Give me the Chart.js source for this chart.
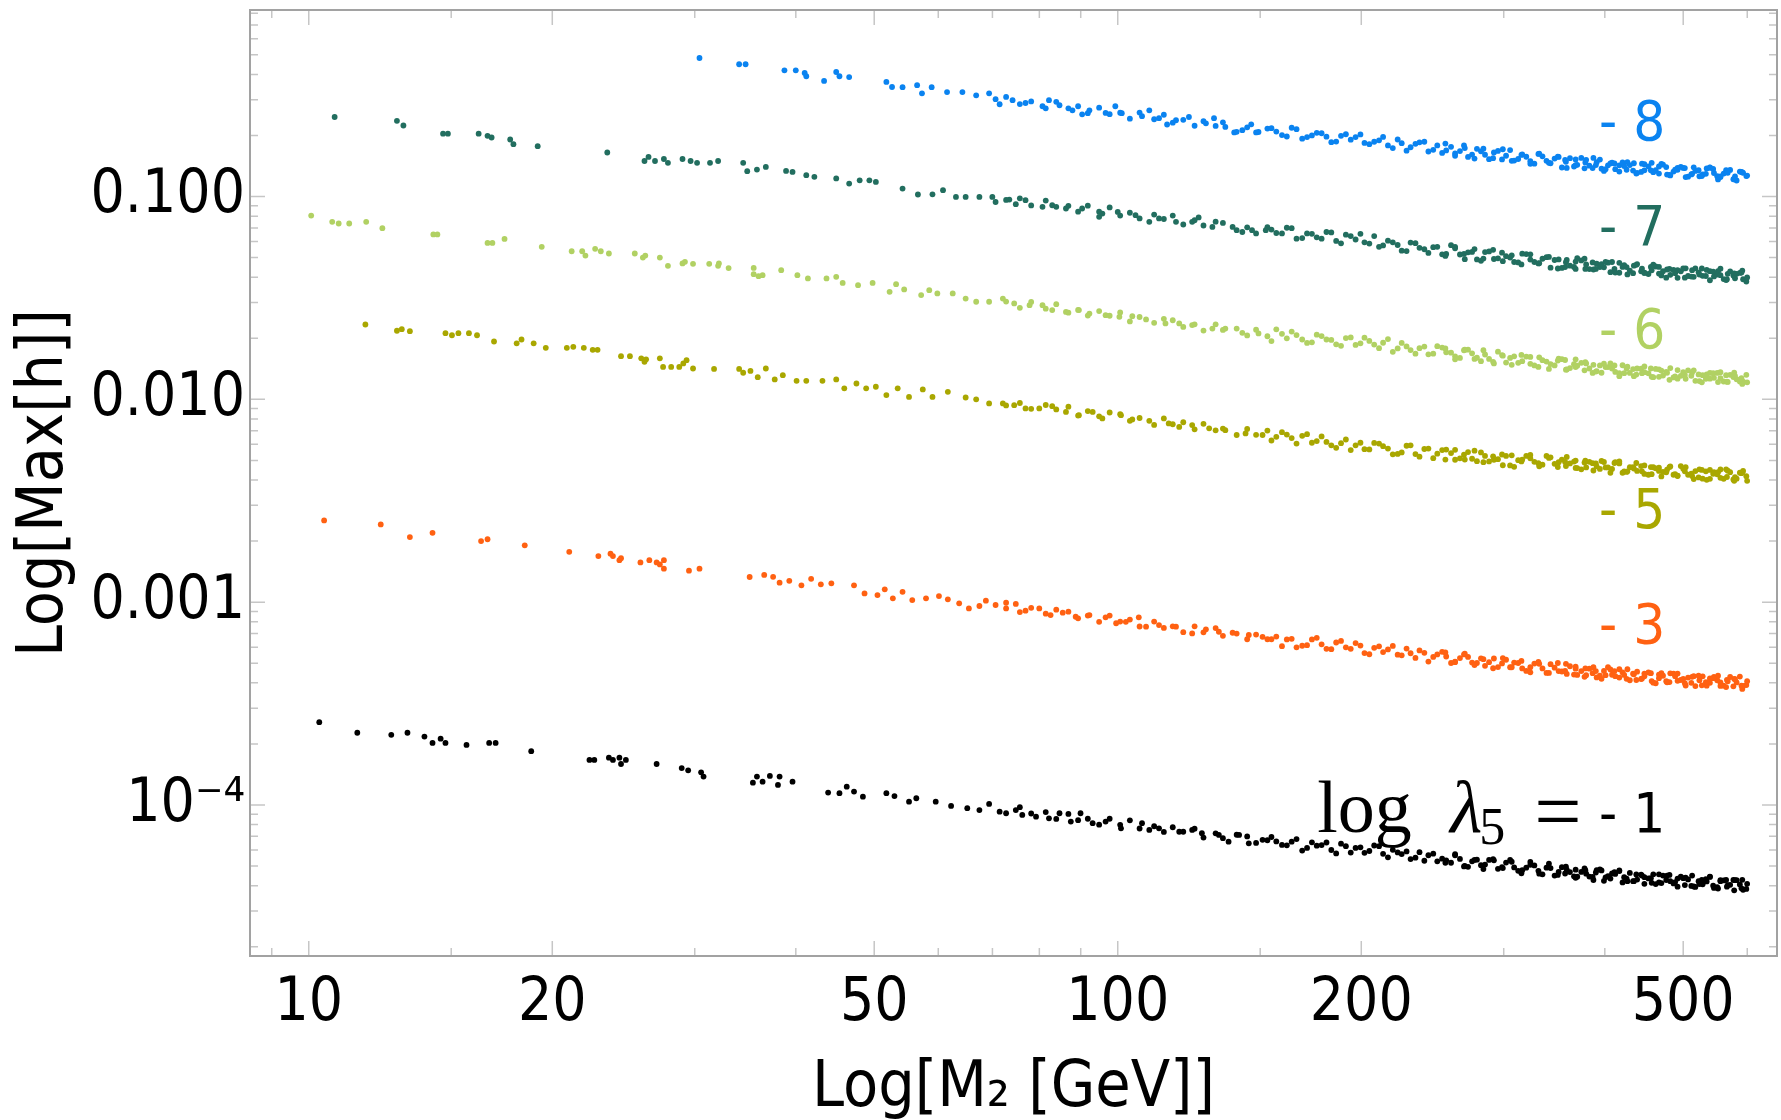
<!DOCTYPE html>
<html>
<head>
<meta charset="utf-8">
<script src="https://cdn.jsdelivr.net/npm/chart.js@4.4.0/dist/chart.umd.min.js"></script>
<style>
  html, body { margin: 0; padding: 0; background: #ffffff; }
  #grafica { display: block; }
</style>
</head>
<body>
<canvas id="grafica" width="1781" height="1120"></canvas>
<script>
// Valores: [log10(M2/GeV), log10(Max[h])], una lista por cada log λ5
var bajo8 = [[1.483,-0.317],[1.532,-0.348],[1.540,-0.348],[1.588,-0.378],[1.602,-0.378],[1.613,-0.391],[1.615,-0.407],[1.637,-0.430],[1.652,-0.386],[1.656,-0.407],[1.668,-0.411],[1.714,-0.435],[1.721,-0.460],[1.734,-0.461],[1.752,-0.451],[1.758,-0.491],[1.770,-0.461],[1.789,-0.485],[1.808,-0.485],[1.825,-0.501],[1.841,-0.491],[1.849,-0.520],[1.854,-0.545],[1.870,-0.525],[1.886,-0.539],[1.907,-0.555],[1.915,-0.525],[1.928,-0.550],[1.944,-0.575],[1.956,-0.595],[1.965,-0.575],[1.985,-0.588],[1.997,-0.555],[2.005,-0.589],[2.030,-0.604],[2.039,-0.575],[2.051,-0.614],[2.061,-0.645],[2.072,-0.624],[2.088,-0.608],[2.109,-0.639],[2.119,-0.614],[2.133,-0.657],[2.144,-0.684],[2.154,-0.673],[2.165,-0.644],[2.174,-0.682]];
var bajo7 = [[1.032,-0.608],[1.109,-0.627],[1.117,-0.650],[1.166,-0.690],[1.172,-0.690],[1.210,-0.690],[1.221,-0.701],[1.226,-0.709],[1.249,-0.719],[1.253,-0.742],[1.283,-0.752],[1.369,-0.783],[1.415,-0.825],[1.420,-0.805],[1.428,-0.825],[1.439,-0.815],[1.444,-0.834],[1.462,-0.815],[1.472,-0.825],[1.480,-0.834],[1.496,-0.834],[1.506,-0.825],[1.537,-0.834],[1.542,-0.875],[1.554,-0.867],[1.565,-0.854],[1.590,-0.874],[1.598,-0.879],[1.615,-0.895],[1.625,-0.903],[1.652,-0.911],[1.668,-0.936],[1.681,-0.920],[1.693,-0.920],[1.701,-0.928],[1.734,-0.961],[1.753,-0.990],[1.771,-0.989],[1.784,-0.969],[1.800,-1.002],[1.812,-1.002],[1.829,-1.002],[1.845,-1.002],[1.849,-1.027],[1.866,-1.015],[1.874,-1.038],[1.886,-1.018],[1.907,-1.051],[1.919,-1.043],[1.936,-1.059],[1.956,-1.059],[1.977,-1.100],[1.981,-1.084],[2.000,-1.076],[2.022,-1.092],[2.039,-1.125],[2.051,-1.108],[2.072,-1.125],[2.092,-1.125],[2.100,-1.103],[2.117,-1.150],[2.142,-1.150],[2.154,-1.175],[2.166,-1.166],[2.183,-1.166]];
var bajo6 = [[1.003,-1.094],[1.029,-1.125],[1.037,-1.133],[1.050,-1.133],[1.071,-1.125],[1.091,-1.156],[1.154,-1.187],[1.159,-1.187],[1.221,-1.229],[1.227,-1.229],[1.242,-1.209],[1.288,-1.248],[1.325,-1.270],[1.338,-1.270],[1.342,-1.291],[1.354,-1.258],[1.361,-1.270],[1.371,-1.281],[1.403,-1.281],[1.413,-1.301],[1.416,-1.291],[1.434,-1.301],[1.444,-1.342],[1.462,-1.330],[1.465,-1.322],[1.475,-1.332],[1.495,-1.332],[1.506,-1.342],[1.507,-1.330],[1.519,-1.353],[1.550,-1.352],[1.550,-1.383],[1.556,-1.393],[1.561,-1.388],[1.584,-1.363],[1.604,-1.388],[1.617,-1.404],[1.640,-1.404],[1.652,-1.396],[1.660,-1.426],[1.679,-1.437],[1.697,-1.426],[1.718,-1.470],[1.726,-1.432],[1.736,-1.458],[1.757,-1.486],[1.767,-1.462],[1.777,-1.478],[1.796,-1.478],[1.812,-1.503],[1.825,-1.519],[1.841,-1.519],[1.858,-1.503],[1.872,-1.527],[1.891,-1.536],[1.907,-1.536],[1.919,-1.560],[1.936,-1.569],[1.952,-1.560],[1.965,-1.577],[1.985,-1.585],[2.002,-1.593],[2.018,-1.590],[2.035,-1.606],[2.059,-1.626],[2.076,-1.626],[2.092,-1.634],[2.117,-1.651],[2.133,-1.651],[2.154,-1.672],[2.174,-1.675]];
var bajo5 = [[1.070,-1.631],[1.109,-1.662],[1.115,-1.654],[1.125,-1.664],[1.169,-1.674],[1.177,-1.684],[1.185,-1.674],[1.198,-1.674],[1.208,-1.684],[1.229,-1.715],[1.257,-1.724],[1.263,-1.705],[1.278,-1.724],[1.293,-1.746],[1.319,-1.746],[1.327,-1.741],[1.340,-1.746],[1.351,-1.756],[1.357,-1.756],[1.386,-1.787],[1.397,-1.787],[1.411,-1.798],[1.415,-1.815],[1.417,-1.803],[1.434,-1.798],[1.438,-1.840],[1.448,-1.840],[1.458,-1.840],[1.463,-1.823],[1.467,-1.807],[1.475,-1.848],[1.501,-1.850],[1.532,-1.850],[1.537,-1.869],[1.546,-1.860],[1.555,-1.891],[1.565,-1.848],[1.576,-1.902],[1.586,-1.881],[1.603,-1.909],[1.615,-1.909],[1.635,-1.909],[1.652,-1.902],[1.662,-1.946],[1.677,-1.922],[1.689,-1.946],[1.701,-1.938],[1.714,-1.979],[1.728,-1.946],[1.742,-1.988],[1.759,-1.951],[1.771,-1.988],[1.790,-1.963],[1.812,-1.991],[1.825,-2.000],[1.841,-2.020],[1.858,-2.020],[1.872,-2.029],[1.886,-2.045],[1.903,-2.045],[1.919,-2.034],[1.936,-2.062],[1.952,-2.078],[1.969,-2.062],[1.981,-2.094],[2.004,-2.078],[2.018,-2.099],[2.039,-2.106],[2.063,-2.119],[2.076,-2.136],[2.092,-2.127],[2.113,-2.143],[2.133,-2.152],[2.158,-2.168],[2.179,-2.176]];
var bajo3 = [[1.019,-2.597],[1.089,-2.617],[1.125,-2.679],[1.153,-2.658],[1.213,-2.699],[1.221,-2.690],[1.267,-2.720],[1.322,-2.752],[1.358,-2.773],[1.373,-2.761],[1.376,-2.773],[1.384,-2.793],[1.386,-2.783],[1.410,-2.804],[1.421,-2.793],[1.430,-2.804],[1.434,-2.814],[1.439,-2.793],[1.439,-2.835],[1.470,-2.845],[1.483,-2.835],[1.545,-2.876],[1.563,-2.866],[1.574,-2.875],[1.582,-2.904],[1.594,-2.895],[1.609,-2.917],[1.621,-2.885],[1.633,-2.912],[1.646,-2.907],[1.674,-2.917],[1.687,-2.957],[1.703,-2.965],[1.712,-2.937],[1.722,-2.981],[1.734,-2.949],[1.746,-2.990],[1.763,-2.981],[1.779,-2.970],[1.790,-2.986],[1.804,-3.006],[1.816,-3.031],[1.829,-3.019],[1.837,-2.993],[1.849,-3.014],[1.862,-3.031],[1.874,-3.009],[1.886,-3.042],[1.903,-3.031],[1.917,-3.064],[1.932,-3.052],[1.948,-3.072],[1.965,-3.064],[1.985,-3.075],[1.998,-3.104],[2.010,-3.097],[2.026,-3.075],[2.035,-3.121],[2.051,-3.113],[2.072,-3.121],[2.092,-3.154],[2.109,-3.134],[2.125,-3.146],[2.142,-3.151],[2.162,-3.162],[2.179,-3.171]];
var bajo1 = [[1.013,-3.592],[1.060,-3.644],[1.102,-3.654],[1.122,-3.644],[1.143,-3.663],[1.153,-3.694],[1.163,-3.673],[1.169,-3.694],[1.195,-3.704],[1.223,-3.694],[1.231,-3.694],[1.275,-3.735],[1.347,-3.778],[1.353,-3.778],[1.371,-3.767],[1.376,-3.778],[1.384,-3.767],[1.386,-3.798],[1.392,-3.778],[1.430,-3.798],[1.461,-3.818],[1.469,-3.829],[1.485,-3.839],[1.488,-3.860],[1.549,-3.890],[1.554,-3.860],[1.561,-3.885],[1.570,-3.857],[1.580,-3.901],[1.582,-3.860],[1.598,-3.885],[1.642,-3.939],[1.656,-3.942],[1.665,-3.910],[1.674,-3.934],[1.685,-3.959],[1.714,-3.942],[1.724,-3.956],[1.742,-3.984],[1.751,-3.967],[1.775,-3.984],[1.794,-4.005],[1.814,-4.016],[1.829,-4.025],[1.841,-3.995],[1.854,-4.033],[1.874,-4.025],[1.882,-4.049],[1.899,-4.058],[1.915,-4.066],[1.928,-4.041],[1.942,-4.082],[1.954,-4.041],[1.969,-4.090],[1.985,-4.082],[2.004,-4.115],[2.030,-4.090],[2.039,-4.123],[2.051,-4.115],[2.076,-4.132],[2.092,-4.123],[2.104,-4.139],[2.125,-4.148],[2.137,-4.181],[2.150,-4.148],[2.162,-4.189],[2.179,-4.172]];

// Zona intermedia (70-150 GeV): log10(M2) común y log10(Max[h]) de cada serie
var lmMedio = [1.862,1.879,1.893,1.911,1.924,1.939,1.951,1.963,1.977,1.990,2.003,2.015,2.027,2.045,2.057,2.068,2.081,2.095,2.106,2.121,2.130,2.147,2.160,2.171,2.185];
var medio8 = [-0.509,-0.544,-0.531,-0.565,-0.533,-0.565,-0.555,-0.589,-0.562,-0.594,-0.587,-0.616,-0.586,-0.619,-0.597,-0.636,-0.622,-0.651,-0.629,-0.652,-0.634,-0.681,-0.659,-0.684,-0.665];
var medio7 = [-1.017,-1.009,-1.044,-1.020,-1.051,-1.046,-1.075,-1.045,-1.075,-1.054,-1.094,-1.080,-1.108,-1.089,-1.111,-1.094,-1.138,-1.117,-1.143,-1.124,-1.130,-1.166,-1.152,-1.182,-1.151];
var medio6 = [-1.518,-1.549,-1.520,-1.553,-1.531,-1.573,-1.559,-1.587,-1.565,-1.588,-1.572,-1.616,-1.594,-1.623,-1.603,-1.610,-1.643,-1.630,-1.661,-1.630,-1.658,-1.651,-1.685,-1.657,-1.689];
var medio5 = [-2.030,-2.018,-2.047,-2.028,-2.050,-2.036,-2.080,-2.058,-2.084,-2.065,-2.073,-2.106,-2.092,-2.126,-2.094,-2.123,-2.113,-2.148,-2.121,-2.153,-2.144,-2.176,-2.146,-2.175,-2.154];
var medio3 = [-3.003,-3.049,-3.028,-3.057,-3.037,-3.047,-3.080,-3.066,-3.097,-3.066,-3.096,-3.086,-3.120,-3.096,-3.127,-3.119,-3.148,-3.119,-3.149,-3.128,-3.166,-3.155,-3.183,-3.160,-3.183];
var medio1 = [-4.041,-4.011,-4.042,-4.035,-4.069,-4.044,-4.075,-4.068,-4.097,-4.068,-4.098,-4.076,-4.116,-4.105,-4.133,-4.110,-4.132,-4.117,-4.161,-4.140,-4.164,-4.147,-4.155,-4.187,-4.174];

// Zona densa (M2 > 150 GeV): filas de log10(M2) comunes y log10(Max[h]) de cada banda
var lmBanda = [2.190,2.203,2.215,2.228,2.240,2.252,2.264,2.276,2.288,2.300,2.311,2.323,2.334,2.346,2.357,2.368,2.379,2.390,2.401,2.412,2.423,2.433,2.444,2.454,2.465,2.475,2.485,2.495,2.505,2.515,2.525,2.535,2.545,2.554,2.564,2.573,2.583,2.592,2.601,2.611,2.620,2.629,2.638,2.647,2.656,2.665,2.674,2.683,2.692,2.701,2.710,2.719,2.728,2.737,2.745,2.753,2.761,2.769,2.777];
var lmBanda2 = [2.196,2.209,2.221,2.234,2.246,2.258,2.270,2.282,2.294,2.305,2.317,2.328,2.340,2.351,2.362,2.373,2.384,2.395,2.406,2.417,2.428,2.438,2.449,2.459,2.470,2.480,2.490,2.500,2.510,2.520,2.530,2.540,2.549,2.559,2.568,2.578,2.587,2.596,2.606,2.615,2.624,2.633,2.642,2.651,2.660,2.669,2.678,2.687,2.696,2.705,2.714,2.723,2.732,2.741,2.749,2.757,2.765,2.773];
var lmBanda3 = [2.405,2.417,2.429,2.441,2.452,2.464,2.476,2.487,2.499,2.510,2.521,2.533,2.544,2.555,2.566,2.577,2.588,2.598,2.609,2.620,2.630,2.641,2.651,2.662,2.672,2.682,2.692,2.702,2.712,2.722,2.732,2.742,2.752,2.762,2.772];
var lmBanda4 = [2.553,2.566,2.579,2.591,2.603,2.614,2.626,2.637,2.648,2.659,2.669,2.679,2.689,2.699,2.709,2.718,2.727,2.736,2.745,2.754,2.763,2.771,2.778];
var banda8 = [-0.663,-0.697,-0.661,-0.715,-0.699,-0.688,-0.732,-0.701,-0.720,-0.694,-0.742,-0.723,-0.748,-0.719,-0.774,-0.740,-0.730,-0.770,-0.785,-0.755,-0.776,-0.805,-0.765,-0.794,-0.783,-0.817,-0.771,-0.815,-0.804,-0.838,-0.802,-0.836,-0.805,-0.829,-0.852,-0.810,-0.848,-0.831,-0.874,-0.833,-0.846,-0.868,-0.836,-0.879,-0.852,-0.870,-0.843,-0.896,-0.868,-0.860,-0.888,-0.900,-0.862,-0.884,-0.901,-0.878,-0.915,-0.877,-0.899];
var banda8b = [-0.680,-0.704,-0.668,-0.707,-0.686,-0.705,-0.729,-0.693,-0.707,-0.736,-0.730,-0.706,-0.761,-0.737,-0.757,-0.733,-0.778,-0.748,-0.773,-0.788,-0.748,-0.793,-0.777,-0.816,-0.775,-0.799,-0.823,-0.792,-0.826,-0.790,-0.824,-0.813,-0.857,-0.811,-0.844,-0.832,-0.860,-0.818,-0.846,-0.865,-0.832,-0.845,-0.883,-0.871,-0.834,-0.887,-0.855,-0.877,-0.854,-0.902,-0.874,-0.891,-0.858,-0.900,-0.887,-0.869,-0.921,-0.883];
var banda8c = [-0.739,-0.799,-0.761,-0.813,-0.764,-0.811,-0.767,-0.824,-0.795,-0.839,-0.789,-0.834,-0.803,-0.859,-0.817,-0.861,-0.810,-0.863,-0.837,-0.877,-0.830,-0.887,-0.841,-0.880,-0.839,-0.893,-0.859,-0.904,-0.856,-0.899,-0.857,-0.916,-0.870,-0.915,-0.881];
var banda8d = [-0.820,-0.845,-0.819,-0.845,-0.865,-0.837,-0.850,-0.872,-0.838,-0.871,-0.852,-0.892,-0.868,-0.859,-0.891,-0.870,-0.888,-0.864,-0.904,-0.883,-0.901,-0.879,-0.897];
var banda7 = [-1.163,-1.182,-1.156,-1.205,-1.184,-1.208,-1.177,-1.231,-1.195,-1.184,-1.232,-1.248,-1.218,-1.239,-1.269,-1.230,-1.260,-1.250,-1.285,-1.240,-1.286,-1.275,-1.310,-1.274,-1.308,-1.277,-1.301,-1.325,-1.284,-1.323,-1.307,-1.351,-1.310,-1.324,-1.347,-1.315,-1.358,-1.331,-1.349,-1.323,-1.376,-1.348,-1.341,-1.369,-1.382,-1.345,-1.368,-1.386,-1.363,-1.400,-1.363,-1.385,-1.362,-1.394,-1.356,-1.408,-1.390,-1.377,-1.419];
var banda7b = [-1.180,-1.154,-1.208,-1.182,-1.201,-1.175,-1.219,-1.188,-1.212,-1.226,-1.195,-1.241,-1.226,-1.267,-1.227,-1.253,-1.278,-1.248,-1.283,-1.248,-1.283,-1.273,-1.317,-1.271,-1.305,-1.294,-1.323,-1.282,-1.311,-1.330,-1.299,-1.313,-1.352,-1.341,-1.304,-1.357,-1.325,-1.348,-1.326,-1.375,-1.347,-1.365,-1.333,-1.376,-1.364,-1.347,-1.400,-1.362,-1.369,-1.392,-1.354,-1.391,-1.368,-1.385,-1.407,-1.369,-1.381,-1.408];
var banda7c = [-1.293,-1.255,-1.309,-1.259,-1.306,-1.263,-1.319,-1.290,-1.335,-1.285,-1.329,-1.298,-1.355,-1.313,-1.357,-1.307,-1.360,-1.333,-1.373,-1.327,-1.384,-1.337,-1.377,-1.336,-1.389,-1.357,-1.401,-1.354,-1.396,-1.355,-1.413,-1.368,-1.412,-1.379,-1.365];
var banda7d = [-1.348,-1.321,-1.335,-1.357,-1.323,-1.357,-1.338,-1.378,-1.356,-1.347,-1.380,-1.360,-1.378,-1.355,-1.395,-1.374,-1.392,-1.370,-1.388,-1.381,-1.403,-1.375,-1.399];
var banda6 = [-1.713,-1.677,-1.666,-1.705,-1.719,-1.688,-1.707,-1.736,-1.695,-1.724,-1.712,-1.748,-1.703,-1.749,-1.739,-1.775,-1.740,-1.775,-1.745,-1.770,-1.796,-1.755,-1.795,-1.779,-1.823,-1.782,-1.796,-1.820,-1.789,-1.833,-1.807,-1.826,-1.800,-1.854,-1.827,-1.820,-1.848,-1.861,-1.824,-1.848,-1.871,-1.848,-1.886,-1.849,-1.872,-1.850,-1.883,-1.846,-1.898,-1.880,-1.868,-1.910,-1.877,-1.894,-1.866,-1.913,-1.890,-1.912,-1.879];
var banda6b = [-1.655,-1.699,-1.683,-1.722,-1.681,-1.705,-1.729,-1.698,-1.732,-1.696,-1.730,-1.721,-1.766,-1.722,-1.757,-1.748,-1.778,-1.738,-1.768,-1.788,-1.758,-1.773,-1.812,-1.801,-1.765,-1.819,-1.788,-1.812,-1.791,-1.840,-1.814,-1.833,-1.802,-1.846,-1.834,-1.817,-1.870,-1.833,-1.841,-1.865,-1.832,-1.870,-1.848,-1.866,-1.889,-1.852,-1.865,-1.892,-1.884,-1.857,-1.909,-1.881,-1.898,-1.870,-1.912,-1.879,-1.901,-1.913];
var banda6c = [-1.749,-1.803,-1.755,-1.801,-1.758,-1.815,-1.785,-1.830,-1.781,-1.825,-1.793,-1.850,-1.809,-1.853,-1.803,-1.857,-1.830,-1.869,-1.823,-1.886,-1.839,-1.878,-1.838,-1.891,-1.858,-1.904,-1.856,-1.899,-1.857,-1.916,-1.870,-1.915,-1.881,-1.868,-1.924];
var banda6d = [-1.806,-1.841,-1.823,-1.863,-1.841,-1.833,-1.871,-1.851,-1.871,-1.848,-1.889,-1.869,-1.887,-1.866,-1.884,-1.877,-1.899,-1.871,-1.895,-1.914,-1.884,-1.896,-1.916];
var banda5 = [-2.203,-2.162,-2.191,-2.180,-2.214,-2.183,-2.227,-2.216,-2.250,-2.214,-2.247,-2.218,-2.243,-2.269,-2.229,-2.270,-2.245,-2.290,-2.250,-2.265,-2.291,-2.260,-2.305,-2.279,-2.298,-2.272,-2.326,-2.300,-2.279,-2.308,-2.322,-2.286,-2.310,-2.329,-2.307,-2.345,-2.308,-2.331,-2.309,-2.343,-2.306,-2.358,-2.341,-2.329,-2.372,-2.340,-2.358,-2.331,-2.378,-2.355,-2.378,-2.345,-2.397,-2.359,-2.346,-2.383,-2.395,-2.362,-2.379];
var banda5b = [-2.185,-2.174,-2.218,-2.172,-2.206,-2.210,-2.239,-2.198,-2.227,-2.246,-2.215,-2.231,-2.271,-2.262,-2.227,-2.283,-2.243,-2.268,-2.248,-2.298,-2.273,-2.293,-2.262,-2.306,-2.295,-2.279,-2.333,-2.297,-2.291,-2.315,-2.279,-2.318,-2.297,-2.316,-2.339,-2.302,-2.315,-2.343,-2.336,-2.310,-2.362,-2.335,-2.353,-2.326,-2.369,-2.337,-2.360,-2.372,-2.329,-2.372,-2.354,-2.391,-2.348,-2.370,-2.392,-2.359,-2.391,-2.353];
var banda5c = [-2.297,-2.249,-2.297,-2.253,-2.310,-2.281,-2.325,-2.276,-2.306,-2.274,-2.330,-2.289,-2.334,-2.284,-2.338,-2.312,-2.351,-2.304,-2.362,-2.316,-2.355,-2.314,-2.368,-2.335,-2.380,-2.334,-2.376,-2.335,-2.393,-2.348,-2.392,-2.359,-2.345,-2.402,-2.360];
var banda5d = [-2.309,-2.302,-2.336,-2.316,-2.336,-2.314,-2.355,-2.335,-2.355,-2.334,-2.353,-2.347,-2.369,-2.342,-2.366,-2.385,-2.355,-2.367,-2.387,-2.352,-2.384,-2.364,-2.402];
var banda3 = [-3.183,-3.217,-3.181,-3.215,-3.184,-3.208,-3.232,-3.191,-3.230,-3.214,-3.257,-3.218,-3.233,-3.259,-3.229,-3.275,-3.250,-3.270,-3.245,-3.300,-3.276,-3.270,-3.300,-3.314,-3.278,-3.302,-3.321,-3.300,-3.339,-3.303,-3.327,-3.306,-3.340,-3.304,-3.357,-3.340,-3.328,-3.371,-3.339,-3.358,-3.331,-3.378,-3.356,-3.379,-3.347,-3.400,-3.363,-3.351,-3.388,-3.400,-3.368,-3.385,-3.412,-3.369,-3.396,-3.383,-3.415,-3.367,-3.409];
var banda3b = [-3.170,-3.184,-3.223,-3.212,-3.176,-3.230,-3.199,-3.223,-3.202,-3.251,-3.225,-3.246,-3.216,-3.262,-3.252,-3.238,-3.293,-3.258,-3.268,-3.293,-3.258,-3.298,-3.277,-3.296,-3.320,-3.284,-3.298,-3.327,-3.321,-3.295,-3.349,-3.323,-3.342,-3.316,-3.359,-3.327,-3.350,-3.363,-3.321,-3.365,-3.347,-3.385,-3.343,-3.366,-3.389,-3.357,-3.390,-3.352,-3.384,-3.372,-3.414,-3.366,-3.398,-3.385,-3.412,-3.369,-3.396,-3.413];
var banda3c = [-3.248,-3.296,-3.254,-3.310,-3.281,-3.326,-3.276,-3.321,-3.290,-3.346,-3.304,-3.349,-3.300,-3.354,-3.328,-3.368,-3.321,-3.378,-3.332,-3.372,-3.331,-3.384,-3.352,-3.397,-3.350,-3.394,-3.352,-3.411,-3.365,-3.410,-3.376,-3.363,-3.419,-3.378,-3.428];
var banda3d = [-3.339,-3.318,-3.360,-3.340,-3.360,-3.340,-3.359,-3.353,-3.377,-3.350,-3.375,-3.395,-3.365,-3.378,-3.398,-3.363,-3.395,-3.375,-3.413,-3.390,-3.380,-3.412,-3.390];
var banda1 = [-4.158,-4.197,-4.181,-4.225,-4.184,-4.198,-4.222,-4.191,-4.235,-4.209,-4.227,-4.203,-4.258,-4.234,-4.229,-4.260,-4.275,-4.240,-4.265,-4.285,-4.266,-4.305,-4.270,-4.294,-4.273,-4.307,-4.271,-4.325,-4.309,-4.298,-4.342,-4.311,-4.330,-4.304,-4.352,-4.330,-4.353,-4.321,-4.374,-4.338,-4.326,-4.363,-4.376,-4.344,-4.362,-4.390,-4.348,-4.376,-4.363,-4.395,-4.348,-4.390,-4.377,-4.409,-4.371,-4.403,-4.370,-4.392,-4.414];
var banda1b = [-4.180,-4.199,-4.168,-4.212,-4.201,-4.185,-4.239,-4.203,-4.212,-4.236,-4.200,-4.241,-4.221,-4.242,-4.267,-4.233,-4.248,-4.278,-4.273,-4.248,-4.303,-4.278,-4.297,-4.271,-4.315,-4.284,-4.308,-4.322,-4.281,-4.325,-4.309,-4.348,-4.307,-4.331,-4.354,-4.322,-4.355,-4.318,-4.351,-4.340,-4.382,-4.335,-4.368,-4.356,-4.384,-4.342,-4.370,-4.387,-4.354,-4.367,-4.404,-4.391,-4.353,-4.405,-4.372,-4.394,-4.371,-4.418];
var banda1c = [-4.285,-4.243,-4.301,-4.271,-4.316,-4.267,-4.311,-4.280,-4.337,-4.295,-4.339,-4.290,-4.345,-4.319,-4.359,-4.313,-4.370,-4.323,-4.363,-4.323,-4.376,-4.343,-4.389,-4.342,-4.385,-4.345,-4.403,-4.358,-4.402,-4.369,-4.355,-4.412,-4.370,-4.421,-4.369];
var banda1d = [-4.338,-4.319,-4.339,-4.333,-4.357,-4.331,-4.356,-4.376,-4.348,-4.361,-4.382,-4.348,-4.380,-4.361,-4.399,-4.376,-4.366,-4.398,-4.376,-4.395,-4.371,-4.411,-4.389];

// Series: etiqueta (log λ5) y color
var lambdas = ["- 8", "- 7", "- 6", "- 5", "- 3", "- 1"];
var colores = ["#0a83f0", "#226e5f", "#b1d163", "#a9a700", "#ff6112", "#000000"];

// Marcas de los ejes
var ticksX = [10, 20, 50, 100, 200, 500];
var menoresX = [9, 15, 30, 40, 60, 70, 80, 90, 150, 300, 400, 600];
var ticksY = [1e-4, 0.001, 0.01, 0.1];
var etiquetasY = ["10⁻⁴", "0.001", "0.010", "0.100"];
var menoresY = [2e-5, 3e-5, 4e-5, 5e-5, 6e-5, 7e-5, 8e-5, 9e-5,
  2e-4, 3e-4, 4e-4, 5e-4, 6e-4, 7e-4, 8e-4, 9e-4,
  0.002, 0.003, 0.004, 0.005, 0.006, 0.007, 0.008, 0.009,
  0.02, 0.03, 0.04, 0.05, 0.06, 0.07, 0.08, 0.09,
  0.2, 0.3, 0.4, 0.5, 0.6, 0.7, 0.8];

var fuente = "'DejaVu Sans Condensed', 'DejaVu Sans', sans-serif";

// Convierte los valores en log10 a puntos {x, y}
function punto(lm, lh) {
  return { x: Math.pow(10, lm), y: Math.pow(10, lh) };
}
function puntos(bajo, filas) {
  var lista = bajo.map(function (p) { return punto(p[0], p[1]); });
  filas.forEach(function (f) {
    f[0].forEach(function (lm, i) { lista.push(punto(lm, f[1][i])); });
  });
  return lista;
}

var series = [
  puntos(bajo8, [[lmMedio, medio8], [lmBanda, banda8], [lmBanda2, banda8b], [lmBanda3, banda8c], [lmBanda4, banda8d]]),
  puntos(bajo7, [[lmMedio, medio7], [lmBanda, banda7], [lmBanda2, banda7b], [lmBanda3, banda7c], [lmBanda4, banda7d]]),
  puntos(bajo6, [[lmMedio, medio6], [lmBanda, banda6], [lmBanda2, banda6b], [lmBanda3, banda6c], [lmBanda4, banda6d]]),
  puntos(bajo5, [[lmMedio, medio5], [lmBanda, banda5], [lmBanda2, banda5b], [lmBanda3, banda5c], [lmBanda4, banda5d]]),
  puntos(bajo3, [[lmMedio, medio3], [lmBanda, banda3], [lmBanda2, banda3b], [lmBanda3, banda3c], [lmBanda4, banda3d]]),
  puntos(bajo1, [[lmMedio, medio1], [lmBanda, banda1], [lmBanda2, banda1b], [lmBanda3, banda1c], [lmBanda4, banda1d]])
];

var datasets = series.map(function (d, i) {
  return {
    label: "log λ5 = " + lambdas[i],
    data: d,
    pointRadius: 2.9,
    pointBorderWidth: 0,
    pointBackgroundColor: colores[i],
    backgroundColor: colores[i],
    showLine: false
  };
});

// Marco con marcas hacia dentro en los cuatro lados
var marcoPlugin = {
  id: "marco",
  afterDatasetsDraw: function (chart) {
    var ctx = chart.ctx, a = chart.chartArea;
    var sx = chart.scales.x, sy = chart.scales.y;
    ctx.save();
    ctx.strokeStyle = "#c6c6c6";
    ctx.lineWidth = 1.5;
    ctx.beginPath();
    function marcaX(v, largo) {
      var p = sx.getPixelForValue(v);
      ctx.moveTo(p, a.bottom); ctx.lineTo(p, a.bottom - largo);
      ctx.moveTo(p, a.top); ctx.lineTo(p, a.top + largo);
    }
    function marcaY(v, largo) {
      var p = sy.getPixelForValue(v);
      ctx.moveTo(a.left, p); ctx.lineTo(a.left + largo, p);
      ctx.moveTo(a.right, p); ctx.lineTo(a.right - largo, p);
    }
    ticksX.forEach(function (v) { marcaX(v, 15); });
    menoresX.forEach(function (v) { marcaX(v, 8); });
    ticksY.forEach(function (v) { marcaY(v, 15); });
    menoresY.forEach(function (v) { marcaY(v, 8); });
    ctx.stroke();
    ctx.strokeStyle = "#a2a2a2";
    ctx.lineWidth = 2;
    ctx.strokeRect(a.left, a.top, a.right - a.left, a.bottom - a.top);
    ctx.restore();
  }
};

// Rótulos de cada banda, anclados en M2 = 475 GeV
var rotulos = [
  { i: 0, y: 0.1894 },
  { i: 1, y: 0.0575 },
  { i: 2, y: 0.01788 },
  { i: 3, y: 0.002318 },
  { i: 4, y: 0.000629 }
];
var rotulosPlugin = {
  id: "rotulos",
  afterDraw: function (chart) {
    var ctx = chart.ctx;
    var sx = chart.scales.x, sy = chart.scales.y;
    var x = sx.getPixelForValue(475);
    ctx.save();
    ctx.textAlign = "right";
    ctx.textBaseline = "alphabetic";
    ctx.font = "56px " + fuente;
    rotulos.forEach(function (r) {
      ctx.fillStyle = colores[r.i];
      ctx.fillText(lambdas[r.i], x, sy.getPixelForValue(r.y));
    });
    // log λ5 = - 1
    var b = sy.getPixelForValue(7.36e-5);
    ctx.fillStyle = colores[5];
    ctx.fillText(lambdas[5], x, b);
    ctx.textAlign = "left";
    ctx.font = "74px 'Liberation Serif', serif";
    ctx.fillText("log", x - 348, b);
    ctx.font = "italic 74px 'Liberation Serif', serif";
    ctx.fillText("λ", x - 215, b);
    ctx.font = "52px 'Liberation Serif', serif";
    ctx.fillText("5", x - 186, b + 12);
    ctx.font = "84px 'Liberation Serif', serif";
    ctx.fillText("=", x - 131, b + 8);
    ctx.restore();
  }
};

new Chart(document.getElementById("grafica"), {
  type: "scatter",
  data: { datasets: datasets },
  options: {
    responsive: false,
    devicePixelRatio: 1,
    animation: false,
    layout: { padding: { top: 10, right: 2, left: 0, bottom: 0 } },
    plugins: { legend: { display: false }, tooltip: { enabled: false } },
    scales: {
      x: {
        type: "logarithmic",
        position: "bottom",
        min: 8.46,
        max: 653,
        afterBuildTicks: function (scale) {
          scale.ticks = ticksX.map(function (v) { return { value: v }; });
        },
        afterFit: function (scale) {
          scale.height = 164;
          scale.paddingLeft = 0;
          scale.paddingRight = 0;
        },
        grid: { display: false, drawTicks: false },
        border: { display: false },
        ticks: {
          autoSkip: false,
          maxRotation: 0,
          padding: 12,
          color: "#000000",
          font: { family: fuente, size: 60 },
          callback: function (v) { return String(v); }
        },
        title: {
          display: true,
          text: "Log[M₂ [GeV]]",
          color: "#000000",
          font: { family: fuente, size: 64, lineHeight: 0.9 },
          padding: { top: 0, bottom: 2 }
        }
      },
      y: {
        type: "logarithmic",
        position: "left",
        min: 1.80e-5,
        max: 0.831,
        afterBuildTicks: function (scale) {
          scale.ticks = ticksY.map(function (v) { return { value: v }; });
        },
        afterFit: function (scale) {
          scale.width = 250;
          scale.paddingTop = 0;
          scale.paddingBottom = 0;
        },
        grid: { display: false, drawTicks: false },
        border: { display: false },
        ticks: {
          autoSkip: false,
          padding: 5,
          color: "#000000",
          font: { family: fuente, size: 60 },
          callback: function (v) { return etiquetasY[ticksY.indexOf(v)]; }
        },
        title: {
          display: true,
          text: "Log[Max[h]]",
          color: "#000000",
          font: { family: fuente, size: 64 },
          padding: { top: 7, bottom: 0 }
        }
      }
    }
  },
  plugins: [marcoPlugin, rotulosPlugin]
});
</script>
</body>
</html>
